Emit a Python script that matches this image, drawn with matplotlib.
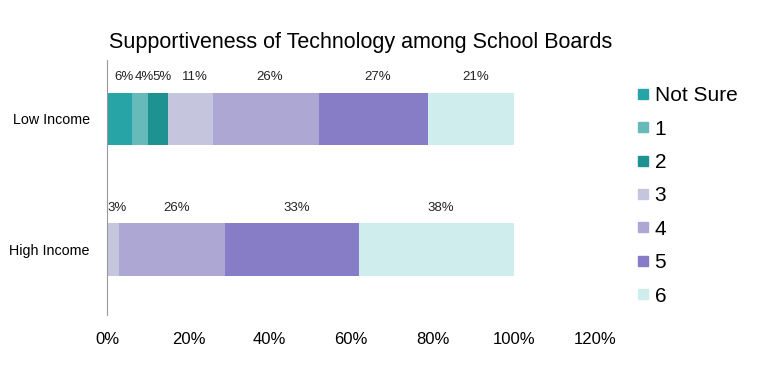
import matplotlib
matplotlib.use('Agg')
import matplotlib.pyplot as plt
from matplotlib.lines import Line2D
import numpy as np

plt.rcParams['font.family'] = ['Liberation Sans', 'DejaVu Sans']

groups = ['Low Income', 'High Income']
series = ['Not Sure', '1', '2', '3', '4', '5', '6']
low_income = [6, 4, 5, 11, 26, 27, 21]
high_income = [0, 0, 0, 3, 26, 33, 38]
colors = ['#27a4a6', '#66baba', '#1e9191', '#c6c5de', '#ada8d3', '#867dc6', '#d0eded']

fig = plt.figure(figsize=(7.6, 3.84), dpi=100)
ax = fig.add_axes([0.141, 0.18, 0.642, 0.664])

vals = np.array([low_income, high_income]) / 100.0
ypos = np.arange(len(groups))
left = np.zeros(len(groups))
for i, name in enumerate(series):
    ax.barh(ypos, vals[:, i], left=left, height=0.4, color=colors[i], label=name)
    for j in range(len(groups)):
        v = vals[j, i]
        if v > 0:
            ax.annotate('%d%%' % round(v * 100), (left[j] + v / 2, ypos[j] - 0.32),
                        xytext=(3, 0), textcoords='offset points',
                        ha='center', va='center', fontsize=9.5, color='#222222')
    left = left + vals[:, i]

ax.set_xlim(0, 1.2)
ax.set_ylim(1.5, -0.45)
ax.set_xticks(np.arange(0, 1.21, 0.2))
ax.set_xticklabels(['%d%%' % round(t * 100) for t in np.arange(0, 1.21, 0.2)], fontsize=12)
ax.set_yticks(ypos)
ax.set_yticklabels(groups, fontsize=10.3)
ax.tick_params(length=0, pad=12, axis='x')
ax.tick_params(length=0, pad=12.5, axis='y')
for s in ['top', 'right', 'bottom']:
    ax.spines[s].set_visible(False)
ax.spines['left'].set_color('#999999')

fig.text(0.474, 0.89, 'Supportiveness of Technology among School Boards',
         ha='center', va='center', fontsize=15.5)

handles = [Line2D([], [], marker='s', linestyle='none', markersize=6.5,
                  markerfacecolor=c, markeredgecolor=c) for c in colors]
fig.legend(handles, series, loc='upper left', bbox_to_anchor=(0.827, 0.797),
           frameon=False, fontsize=15, handlelength=0.6, handletextpad=0.25,
           labelspacing=0.69, borderaxespad=0)

plt.savefig('out.png', dpi=100)
